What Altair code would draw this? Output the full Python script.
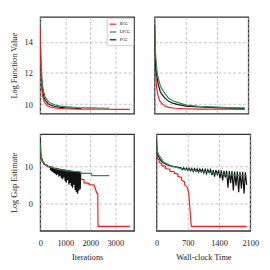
import altair as alt
import pandas as pd

methods = ["BCG", "LPCG", "PCG"]
colors = ["#ff1a1a", "#2e8b57", "#111111"]

# ---- Top-left: log function value vs iterations
tl_bcg_x = [0, 10, 30, 60, 100, 150, 200, 300, 400, 600, 800, 1000, 1500, 2000, 2500, 3000, 3580]
tl_bcg_y = [15.0, 13.0, 11.8, 11.0, 10.5, 10.2, 10.05, 9.9, 9.82, 9.76, 9.73, 9.71, 9.69, 9.68, 9.675, 9.67, 9.67]
tl_lpcg_x = [0, 10, 30, 60, 100, 150, 200, 300, 400, 600, 800, 1000, 1500, 2000, 2760]
tl_lpcg_y = [15.3, 13.8, 12.6, 11.8, 11.1, 10.7, 10.45, 10.2, 10.08, 9.95, 9.88, 9.84, 9.79, 9.76, 9.74]
tl_pcg_x = [0, 10, 30, 60, 100, 150, 200, 300, 400, 600, 800, 1000, 1300, 1640]
tl_pcg_y = [15.1, 13.3, 12.2, 11.4, 10.8, 10.45, 10.25, 10.05, 9.95, 9.85, 9.8, 9.77, 9.74, 9.72]

# ---- Top-right: log function value vs wall-clock time
tr_bcg_x = [0, 10, 25, 45, 75, 110, 160, 230, 320, 450, 700, 1000, 1500, 2020]
tr_bcg_y = [15.0, 13.5, 12.0, 11.1, 10.6, 10.25, 10.05, 9.88, 9.8, 9.74, 9.71, 9.69, 9.68, 9.67]
tr_lpcg_x = [0, 10, 30, 60, 90, 130, 160, 230, 310, 420, 530, 710, 1000, 1400, 1800, 2020]
tr_lpcg_y = [15.3, 14.0, 12.9, 12.0, 11.6, 11.2, 11.0, 10.7, 10.4, 10.2, 10.1, 9.94, 9.87, 9.81, 9.77, 9.75]
tr_pcg_x = [0, 10, 30, 60, 90, 130, 160, 230, 310, 420, 530, 710, 1000, 1400, 1800, 2020]
tr_pcg_y = [15.1, 13.6, 12.4, 11.6, 11.2, 10.8, 10.65, 10.4, 10.2, 10.05, 9.97, 9.88, 9.82, 9.78, 9.75, 9.73]

# ---- Bottom-left: log gap estimate vs iterations
bl_bcg_x = [0, 30, 30, 80, 80, 150, 150, 300, 300, 500, 500, 700, 700, 900, 900, 1100, 1100, 1300, 1300,
            1500, 1500, 1580, 1580, 1750, 1750, 1950, 1950, 2150, 2260, 2300, 2310, 3580]
bl_bcg_y = [13.3, 13.0, 12.2, 12.0, 11.3, 11.1, 10.5, 10.3, 9.9, 9.8, 9.5, 9.4, 9.1, 9.0, 8.7, 8.6, 8.4, 8.3, 8.1,
            8.0, 7.8, 7.7, 6.6, 6.4, 5.6, 5.4, 5.1, 5.0, 2.8, 2.7, -6.2, -6.2]
bl_lpcg_x = [0, 15, 40, 80, 150, 250, 350, 500, 650, 800, 1000, 1200, 1400, 1600, 1620, 2050, 2070, 2760]
bl_lpcg_y = [16.5, 14.0, 12.5, 11.5, 10.8, 10.2, 9.9, 9.6, 9.3, 9.1, 8.9, 8.7, 8.6, 8.5, 8.1, 8.1, 7.5, 7.5]
bl_pcg_x = [0, 20, 50, 100, 150, 200, 300, 400,
            420, 440, 460, 480, 500, 520, 545, 570, 595, 620, 645, 670, 695, 720, 745, 770, 795, 820,
            845, 870, 895, 920, 945, 970, 995, 1020, 1045, 1070, 1095, 1120, 1145, 1170, 1195, 1220,
            1245, 1270, 1295, 1320, 1345, 1370, 1395, 1420, 1445, 1470, 1495, 1520, 1545, 1570, 1600, 1620]
bl_pcg_y = [17.5, 13.5, 12.2, 11.2, 10.7, 10.4, 10.0, 9.8,
            8.9, 9.7, 8.7, 9.6, 8.5, 9.6, 8.2, 9.5, 8.0, 9.5, 7.6, 9.4, 7.9, 9.4, 7.2, 9.3, 7.5, 9.3,
            6.8, 9.2, 6.5, 9.2, 7.0, 9.1, 6.0, 9.1, 5.6, 9.0, 6.3, 9.0, 5.0, 8.9, 5.5, 8.9,
            4.6, 8.8, 4.2, 8.8, 5.0, 8.7, 3.6, 8.7, 3.0, 8.7, 2.6, 8.6, 3.4, 8.6, 3.8, 8.5]

# ---- Bottom-right: log gap estimate vs wall-clock time
br_bcg_x = [0, 20, 20, 60, 60, 120, 120, 200, 200, 300, 300, 400, 400, 480, 480, 560, 560, 630, 630, 690, 700, 720, 780, 2020]
br_bcg_y = [13.3, 13.0, 12.0, 11.8, 11.0, 10.8, 10.2, 10.0, 9.4, 9.2, 8.7, 8.5, 8.1, 7.9, 7.3, 7.0, 6.3, 5.8, 5.0, 4.3, 3.8, 3.0, -6.2, -6.2]
br_lpcg_x = [0, 10, 40, 90, 160, 300, 450, 600, 750, 900, 1100, 1300, 1450, 1500, 1700, 1900, 2020]
br_lpcg_y = [16.5, 14.5, 13.2, 12.4, 11.1, 10.3, 9.7, 9.2, 9.0, 8.7, 8.5, 8.2, 8.0, 7.9, 7.7, 7.5, 7.5]
br_pcg_x = [0, 10, 30, 60, 100, 160, 250, 350, 450, 550,
            580, 610, 640, 670, 700, 730, 760, 790, 820, 850, 880, 910, 940, 970, 1000, 1030, 1060, 1090,
            1120, 1150, 1180, 1210, 1240, 1270, 1300, 1330, 1360, 1390, 1420, 1450, 1480, 1510, 1540, 1570,
            1600, 1630, 1660, 1690, 1720, 1750, 1780, 1810, 1840, 1870, 1900, 1930, 1960, 1990, 2020]
br_pcg_y = [17.0, 14.5, 13.3, 12.3, 11.5, 10.9, 10.4, 10.0, 9.8, 9.6,
            9.1, 9.6, 9.0, 9.5, 8.9, 9.5, 8.8, 9.4, 8.6, 9.4, 8.7, 9.3, 8.4, 9.3, 8.5, 9.2, 8.2, 9.2,
            8.0, 9.1, 8.3, 9.1, 7.6, 9.0, 7.2, 9.0, 7.8, 8.9, 6.8, 8.9, 6.2, 8.8, 7.0, 8.8,
            4.2, 8.7, 5.5, 8.7, 3.5, 8.6, 4.8, 8.6, 3.0, 8.5, 4.0, 8.5, 2.6, 8.4, 5.0]

iter_ticks = [0, 1000, 2000, 3000]
time_ticks = [0, 700, 1400, 2100]
fv_ticks = [10, 12, 14]
gap_ticks = [0, 10]

SERIF = "Liberation Serif"


def frame(series):
    rows = []
    for k, (name, xs, ys) in enumerate(series):
        for i, (xv, yv) in enumerate(zip(xs, ys)):
            rows.append({"method": name, "x": xv, "y": yv, "o": k * 1000 + i})
    return pd.DataFrame(rows)


def panel(df, xdom, xticks, ydom, yticks, xtitle, ytitle, show_xlab, show_ylab, legend):
    xaxis = alt.Axis(values=xticks, labels=show_xlab, title=xtitle if xtitle else None,
                     labelFlush=False, grid=True, format="d")
    yaxis = alt.Axis(values=yticks, labels=show_ylab, title=ytitle if ytitle else None, grid=True,
                     format="d")
    if legend:
        leg = alt.Legend(title=None, orient="top-right", offset=1, symbolType="stroke",
                         symbolSize=45, symbolStrokeWidth=1.2, labelFontSize=4, labelFont=SERIF,
                         rowPadding=1, padding=2.5, fillColor="white", strokeColor="#cccccc",
                         cornerRadius=1, labelOffset=3)
    else:
        leg = None
    color = alt.Color("method:N", scale=alt.Scale(domain=methods, range=colors), legend=leg)
    return alt.Chart(df).mark_line(strokeWidth=1.2, clip=True).encode(
        x=alt.X("x:Q", scale=alt.Scale(domain=xdom, nice=False, zero=False), axis=xaxis),
        y=alt.Y("y:Q", scale=alt.Scale(domain=ydom, nice=False, zero=False), axis=yaxis),
        color=color,
        order="o:Q",
    ).properties(width=96, height=99)


tl = panel(frame([("PCG", tl_pcg_x, tl_pcg_y), ("LPCG", tl_lpcg_x, tl_lpcg_y), ("BCG", tl_bcg_x, tl_bcg_y)]),
           [0, 3750], iter_ticks, [9.4, 15.6], fv_ticks, None, "Log Function Value", False, True, True)
tr = panel(frame([("BCG", tr_bcg_x, tr_bcg_y), ("PCG", tr_pcg_x, tr_pcg_y), ("LPCG", tr_lpcg_x, tr_lpcg_y)]),
           [0, 2100], time_ticks, [9.4, 15.6], fv_ticks, None, None, False, False, False)
bl = panel(frame([("BCG", bl_bcg_x, bl_bcg_y), ("PCG", bl_pcg_x, bl_pcg_y), ("LPCG", bl_lpcg_x, bl_lpcg_y)]),
           [0, 3750], iter_ticks, [-7.4, 18.7], gap_ticks, "Iterations", "Log Gap Estimate", True, True, False)
br = panel(frame([("BCG", br_bcg_x, br_bcg_y), ("PCG", br_pcg_x, br_pcg_y), ("LPCG", br_lpcg_x, br_lpcg_y)]),
           [0, 2100], time_ticks, [-7.4, 18.7], gap_ticks, "Wall-clock Time", None, True, False, False)

top = alt.hconcat(tl, tr, spacing=19).resolve_scale(color="independent").resolve_legend(color="independent")
bottom = alt.hconcat(bl, br, spacing=19).resolve_scale(color="independent").resolve_legend(color="independent")

chart = alt.vconcat(top, bottom, spacing=19).resolve_scale(color="independent").resolve_legend(
    color="independent"
).properties(
    padding={"left": 0, "top": 5, "right": 2, "bottom": 2},
    background="white",
).configure_view(
    stroke="#333333", strokeWidth=1.3
).configure_axis(
    domain=False, ticks=False,
    labelFont=SERIF, labelFontSize=8.5, labelColor="#222222", labelPadding=8,
    titleFont=SERIF, titleFontSize=8.5, titleFontWeight="normal", titleColor="#222222",
    titlePadding=6,
    gridColor="#b5b5b5", gridDash=[3, 2], gridWidth=0.8,
)

chart.save("out.html", embed_options={"renderer": "svg", "actions": False})
